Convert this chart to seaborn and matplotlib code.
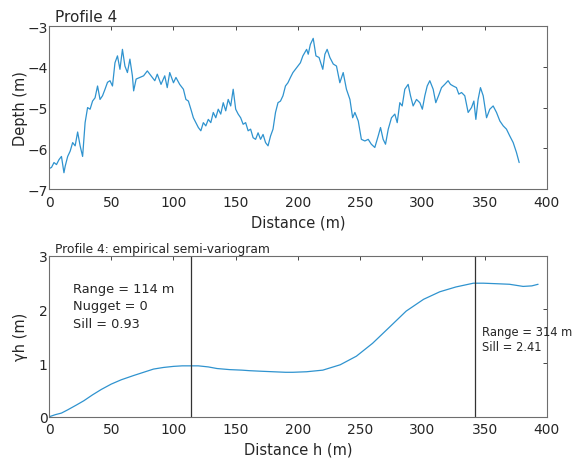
import numpy as np
import pandas as pd
import matplotlib
matplotlib.use("Agg")
import matplotlib.pyplot as plt
import seaborn as sns

# ---- Profile 4 depth data ----
dist = [0, 2, 4, 6, 8, 10, 12, 13, 15, 17, 19, 21, 23, 25, 27, 29, 31, 33, 35, 37,
        39, 41, 43, 45, 47, 49, 51, 53, 55, 57, 59, 61, 63, 65, 67, 68, 70, 73, 76, 79,
        82, 85, 87, 90, 93, 95, 97, 100, 102, 105, 108, 110, 112, 114, 116, 118, 120, 122, 124, 126,
        128, 130, 132, 134, 136, 138, 140, 142, 144, 146, 148, 150, 152, 154, 156, 158, 160, 162, 164, 166,
        168, 170, 172, 174, 176, 178, 180, 182, 184, 186, 188, 190, 192, 194, 196, 198, 200, 202, 204, 207,
        208.3, 210, 212.3, 214.5, 217, 220, 221.7, 223.5, 225.7, 228.4, 231, 233.7, 236.4, 239, 241.8, 244, 245.8, 248.5, 251, 253.8,
        256.5, 259, 261.8, 264.5, 266.4, 268.5, 270.4, 272.6, 275.2, 277.9, 279.8, 281.9, 283.8, 285.9, 288.6, 290.5, 292.6, 295.3, 298, 300,
        302, 303.9, 306, 308.7, 310.8, 313.5, 315.4, 318, 320.7, 322.6, 324.8, 327.4, 329.3, 331.5, 334.1, 336.8, 339.5, 341.4, 343, 344.8,
        346.7, 348.9, 351.6, 354.2, 356.9, 359.6, 362.3, 365, 367.6, 370.3, 373, 375.6, 377.8]
depth = [-6.50, -6.47, -6.35, -6.40, -6.28, -6.20, -6.60, -6.44, -6.20, -6.07, -5.86, -5.94, -5.60, -5.94, -6.20, -5.37, -5.00, -5.04, -4.84, -4.76,
         -4.47, -4.80, -4.71, -4.55, -4.38, -4.34, -4.47, -3.90, -3.73, -4.06, -3.57, -3.98, -4.14, -3.81, -4.22, -4.59, -4.30, -4.26, -4.22, -4.10,
         -4.22, -4.34, -4.18, -4.43, -4.22, -4.51, -4.14, -4.39, -4.26, -4.43, -4.55, -4.80, -4.84, -5.04, -5.25, -5.37, -5.49, -5.57, -5.37, -5.45,
         -5.29, -5.37, -5.12, -5.25, -5.04, -5.16, -4.88, -5.08, -4.80, -4.96, -4.55, -5.04, -5.16, -5.25, -5.41, -5.37, -5.57, -5.53, -5.74, -5.78,
         -5.62, -5.78, -5.66, -5.86, -5.94, -5.70, -5.53, -5.12, -4.88, -4.84, -4.71, -4.47, -4.39, -4.26, -4.14, -4.06, -3.98, -3.90, -3.73, -3.57,
         -3.69, -3.45, -3.30, -3.73, -3.77, -4.06, -3.69, -3.57, -3.77, -3.93, -3.98, -4.39, -4.14, -4.55, -4.80, -5.25, -5.12, -5.33, -5.78, -5.82,
         -5.78, -5.90, -5.98, -5.70, -5.49, -5.78, -5.90, -5.53, -5.25, -5.16, -5.37, -4.88, -4.96, -4.55, -4.43, -4.71, -4.96, -4.80, -4.88, -5.04,
         -4.71, -4.47, -4.34, -4.55, -4.88, -4.67, -4.51, -4.43, -4.34, -4.43, -4.47, -4.51, -4.67, -4.63, -4.71, -5.12, -5.00, -4.84, -5.29, -4.80,
         -4.51, -4.71, -5.25, -5.04, -4.96, -5.12, -5.33, -5.45, -5.53, -5.70, -5.86, -6.10, -6.35]

# ---- Empirical semi-variogram ----
lag = [0, 5, 10, 15, 22, 28, 35, 42, 50, 58, 68, 76, 84, 92, 100, 107, 113, 120, 128, 135,
       145, 155, 161, 170, 180, 190, 196, 207, 220, 234, 247, 260, 274, 287, 301, 314, 327, 335, 341, 349,
       360, 370, 381, 388, 393]
gamma = [0.00, 0.04, 0.07, 0.13, 0.22, 0.30, 0.41, 0.51, 0.61, 0.69, 0.77, 0.83, 0.89, 0.92, 0.94, 0.95, 0.95, 0.95, 0.93, 0.90,
         0.88, 0.87, 0.86, 0.85, 0.84, 0.83, 0.83, 0.84, 0.87, 0.97, 1.13, 1.37, 1.68, 1.97, 2.19, 2.33, 2.42, 2.46, 2.49, 2.49,
         2.48, 2.47, 2.43, 2.44, 2.47]

range1, sill1, nugget1 = 114, 0.93, 0
range2_label, sill2 = 314, 2.41
range2_line = 342

sns.set_theme(style="white")
plt.rcParams['font.family'] = ['DejaVu Sans']
line_color = "#2f93cf"
txt_color = "#262626"
spine_color = "#6e6e6e"

fig = plt.figure(figsize=(5.87, 4.64), dpi=100)
ax1 = fig.add_axes([0.0835, 0.5905, 0.848, 0.351])
ax2 = fig.add_axes([0.0835, 0.0995, 0.848, 0.347])

df1 = pd.DataFrame({"Distance": dist, "Depth": depth})
sns.lineplot(data=df1, x="Distance", y="Depth", ax=ax1, color=line_color, linewidth=0.9)
ax1.set_xlim(0, 400)
ax1.set_ylim(-7, -3)
ax1.set_xticks([0, 50, 100, 150, 200, 250, 300, 350, 400])
ax1.set_yticks([-7, -6, -5, -4, -3])
ax1.set_xlabel("Distance (m)", fontsize=10.5, color=txt_color, labelpad=4)
ax1.set_ylabel("Depth (m)", fontsize=10.5, color=txt_color)
fig.text(0.094, 0.962, "Profile 4", fontsize=11, color=txt_color, va="center", ha="left")

df2 = pd.DataFrame({"Lag": lag, "Gamma": gamma})
sns.lineplot(data=df2, x="Lag", y="Gamma", ax=ax2, color=line_color, linewidth=0.9)
ax2.axvline(range1, color="#333333", linewidth=0.9)
ax2.axvline(range2_line, color="#333333", linewidth=0.9)
ax2.set_xlim(0, 400)
ax2.set_ylim(0, 3)
ax2.set_xticks([0, 50, 100, 150, 200, 250, 300, 350, 400])
ax2.set_yticks([0, 1, 2, 3])
ax2.set_xlabel("Distance h (m)", fontsize=10.5, color=txt_color, labelpad=4)
ax2.set_ylabel("γh (m)", fontsize=10.5, color=txt_color)
fig.text(0.094, 0.462, "Profile 4: empirical semi-variogram", fontsize=8.8,
         color=txt_color, va="center", ha="left")
ax2.text(19.5, 2.52, f"Range = {range1} m\nNugget = {nugget1}\nSill = {sill1}",
         fontsize=9.3, color=txt_color, va="top", ha="left", linespacing=1.45)
ax2.text(348, 1.72, f"Range = {range2_label} m\nSill = {sill2}",
         fontsize=8.3, color=txt_color, va="top", ha="left", linespacing=1.2,
         clip_on=False)

for ax in (ax1, ax2):
    ax.tick_params(direction="in", top=True, right=True, length=3, width=0.6,
                   labelsize=10, colors=txt_color, pad=4)
    ax.tick_params(axis="y", pad=1)
    ax.yaxis.set_label_coords(-0.042, 0.5)
    for s in ax.spines.values():
        s.set_color(spine_color)
        s.set_linewidth(0.8)

fig.savefig("out.png", dpi=100)
